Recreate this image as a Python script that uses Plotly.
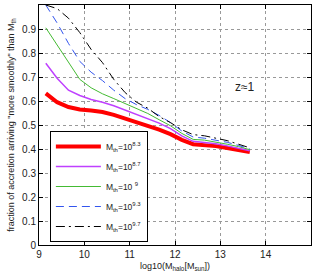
import plotly.graph_objects as go

log_mhalo = [9.15, 9.4, 9.65, 9.9, 10.15, 10.4, 10.65, 10.9, 11.15, 11.4,
             11.65, 11.9, 12.15, 12.4, 12.65, 12.9, 13.15, 13.4, 13.65]

frac_8p3 = [0.632, 0.595, 0.575, 0.565, 0.560, 0.554, 0.542, 0.527, 0.510, 0.495,
            0.481, 0.462, 0.438, 0.420, 0.418, 0.412, 0.404, 0.397, 0.387]
frac_8p7 = [0.757, 0.695, 0.645, 0.623, 0.606, 0.595, 0.580, 0.562, 0.545, 0.527,
            0.508, 0.485, 0.455, 0.432, 0.428, 0.422, 0.413, 0.404, 0.393]
frac_9p0 = [0.905, 0.835, 0.760, 0.690, 0.655, 0.630, 0.610, 0.590, 0.570, 0.548,
            0.522, 0.497, 0.465, 0.440, 0.437, 0.430, 0.420, 0.410, 0.397]
frac_9p3 = [1.000, 0.925, 0.840, 0.765, 0.720, 0.685, 0.645, 0.610, 0.585, 0.565,
            0.540, 0.510, 0.475, 0.450, 0.445, 0.438, 0.428, 0.415, 0.400]
frac_9p7 = [1.000, 0.985, 0.945, 0.885, 0.815, 0.760, 0.690, 0.635, 0.595, 0.570,
            0.535, 0.510, 0.480, 0.460, 0.455, 0.445, 0.435, 0.420, 0.405]

series_names = ["M<sub>th</sub>=10<sup>8.3</sup>", "M<sub>th</sub>=10<sup>8.7</sup>",
                "M<sub>th</sub>=10 <sup>9</sup>", "M<sub>th</sub>=10<sup>9.3</sup>",
                "M<sub>th</sub>=10<sup>9.7</sup>"]
series_vals = [frac_8p3, frac_8p7, frac_9p0, frac_9p3, frac_9p7]
styles = [
    dict(color="#FF0000", width=4, dash="solid"),
    dict(color="#BF40FF", width=1.5, dash="solid"),
    dict(color="#44BB33", width=1, dash="solid"),
    dict(color="#3355EE", width=1, dash="8px,5px"),
    dict(color="#000000", width=1, dash="9px,4px,2px,4px"),
]

fig = go.Figure()
for i, (name, vals, st) in enumerate(zip(series_names, series_vals, styles)):
    fig.add_trace(go.Scatter(x=log_mhalo, y=vals, mode="lines", name=name,
                             line=st, legendgroup=str(i)))

font = "Arial, Liberation Sans, Helvetica, sans-serif"
axis_common = dict(showline=True, linecolor="black", linewidth=1, mirror="ticks",
                   ticks="inside", ticklen=4, tickcolor="black",
                   showgrid=True, gridcolor="#999999", griddash="dot", gridwidth=1,
                   zeroline=False, tickfont=dict(size=10, color="#222", family=font))

fig.update_xaxes(range=[9, 15], dtick=1, **axis_common,
                 title=dict(text="log10(M<sub>halo</sub>[M<sub>sun</sub>])",
                            font=dict(size=9, family=font, color="#222"), standoff=3))
fig.update_yaxes(range=[0, 1], dtick=0.1, tickformat=".1~f", **axis_common,
                 title=dict(text='fraction of accretion arriving "more smoothly" than M<sub>th</sub>',
                            font=dict(size=9, family=font, color="#222"), standoff=5))

fig.add_annotation(x=13.55, y=0.658, text="z≈1", showarrow=False,
                   font=dict(size=12, family=font, color="#222"))

fig.update_layout(
    width=316, height=277,
    margin=dict(l=39, r=5, t=5, b=32),
    paper_bgcolor="white", plot_bgcolor="white",
    showlegend=True,
    legend=dict(x=0.04, y=0.475, xanchor="left", yanchor="top",
                bgcolor="white", bordercolor="black", borderwidth=1,
                font=dict(size=8.5, family=font, color="#222"),
                tracegroupgap=1, itemwidth=45),
)

fig.write_html("out.html", config={"displayModeBar": False},
               post_script="document.body.style.margin='0';")
